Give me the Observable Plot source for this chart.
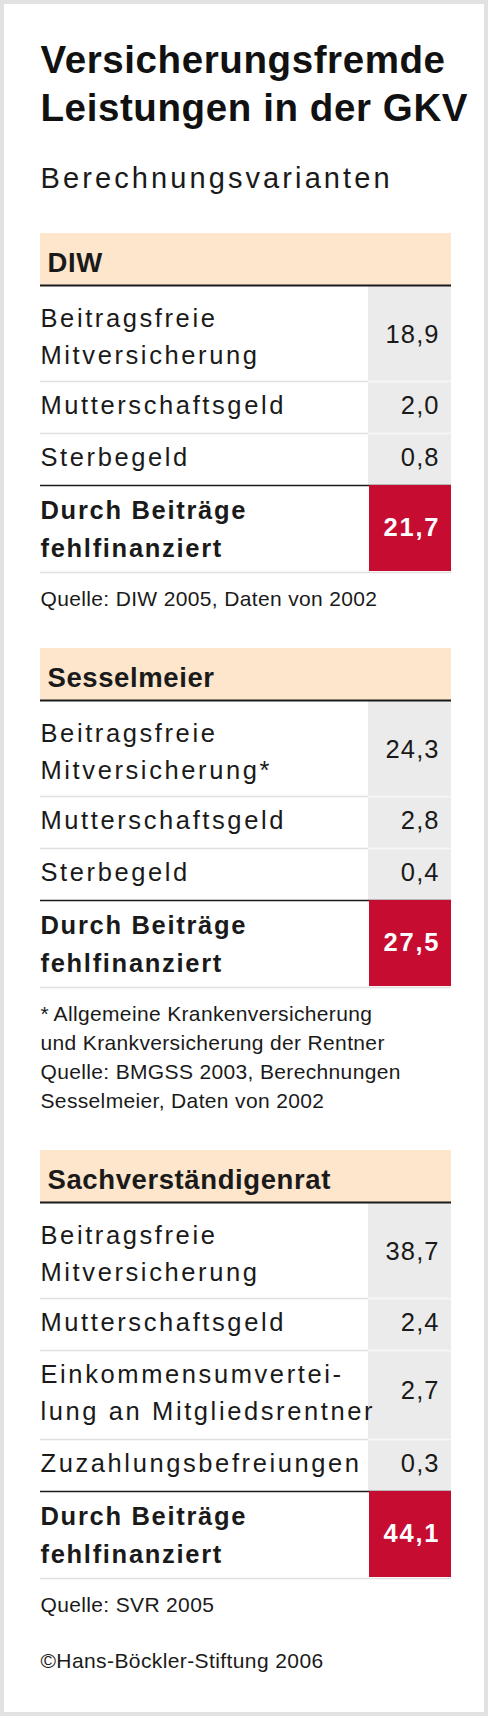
<!DOCTYPE html>
<html>
<head>
<meta charset="utf-8">
<script src="https://cdn.jsdelivr.net/npm/d3@7"></script>
<script src="https://cdn.jsdelivr.net/npm/@observablehq/plot@0.6"></script>
<style>
  html, body { margin: 0; padding: 0; background: #fff; }
  #chart svg { display: block; }
</style>
</head>
<body>
<div id="chart"></div>
<script>
// ---------- data ----------
const titleLines = ["Versicherungsfremde", "Leistungen in der GKV"];
const subtitle = "Berechnungsvarianten";
const sections = ["DIW", "Sesselmeier", "Sachverständigenrat"];

const diwLabels = ["Beitragsfreie\nMitversicherung", "Mutterschaftsgeld", "Sterbegeld"];
const diwValues = [18.9, 2.0, 0.8];
const diwNotes = ["Quelle: DIW 2005, Daten von 2002"];

const sesselLabels = ["Beitragsfreie\nMitversicherung*", "Mutterschaftsgeld", "Sterbegeld"];
const sesselValues = [24.3, 2.8, 0.4];
const sesselNotes = [
  "*\u2009Allgemeine Krankenversicherung",
  "und Krankversicherung der Rentner",
  "Quelle: BMGSS 2003, Berechnungen",
  "Sesselmeier, Daten von 2002"
];

const svrLabels = ["Beitragsfreie\nMitversicherung", "Mutterschaftsgeld", "Einkommensumvertei-\nlung an Mitgliedsrentner", "Zuzahlungsbefreiungen"];
const svrValues = [38.7, 2.4, 2.7, 0.3];
const svrNotes = ["Quelle: SVR 2005"];

const totalLabel = ["Durch Beiträge", "fehlfinanziert"];
const totals = [21.7, 27.5, 44.1];
const copyright = "©Hans-Böckler-Stiftung 2006";

// ---------- layout ----------
const W = 491, H = 1721;
const FONT = "'Liberation Sans', Arial, Helvetica, sans-serif";
const fmt = d3.formatLocale({decimal: ",", thousands: ".", grouping: [3], currency: ["", " €"]}).format(".1f");

const blocks = [
  {name: sections[0], labels: diwLabels, values: diwValues, total: totals[0], notes: diwNotes},
  {name: sections[1], labels: sesselLabels, values: sesselValues, total: totals[1], notes: sesselNotes},
  {name: sections[2], labels: svrLabels, values: svrValues, total: totals[2], notes: svrNotes}
];

const spacing = {title: 0.6, subtitle: 3.1, headers: 0.6, labels: 2.6, boldlabels: 1.7, values: 1.1, totals: 1.8, notes: 0.35, copy: 0.4};

const left = 40, right = 451, col = 368, valueX = 438;
const bands = [], headers = [], cells = [], reds = [], sepRules = [], darkRules = [], bottomRules = [];
const labelLines = [], boldLines = [], valueTexts = [], totalTexts = [], noteLines = [];
let y = 233, lastNote = 0;
for (const b of blocks) {
  bands.push({y1: y, y2: y + 52});
  headers.push({text: b.name, y: y + 38.5});
  y += 52;
  darkRules.push({y, w: 2});
  b.labels.forEach((lab, i) => {
    const lines = lab.split("\n");
    const first = i === 0;
    const h = 52 + (lines.length - 1) * 37 + (first ? 7 : 0);
    const b0 = y + 32 + (first ? 9 : 0);
    lines.forEach((t, k) => labelLines.push({text: t, y: b0 + k * 37}));
    const vb = lines.length === 1 ? b0 : b0 + (lines.length - 1) * 37 / 2 - 2;
    cells.push({y1: y, y2: y + h});
    valueTexts.push({text: fmt(b.values[i]), y: vb});
    y += h;
    if (i < b.labels.length - 1) sepRules.push({y});
  });
  darkRules.push({y, w: 1.5});
  reds.push({y1: y, y2: y + 86});
  totalLabel.forEach((t, k) => boldLines.push({text: t, y: y + 33 + k * 38}));
  totalTexts.push({text: fmt(b.total), y: y + 50});
  y += 86;
  bottomRules.push({y: y + 1});
  const nb = y + 34;
  b.notes.forEach((t, k) => noteLines.push({text: t, y: nb + k * 29}));
  lastNote = nb + (b.notes.length - 1) * 29;
  y = lastNote + 43;
}
const titleData = titleLines.map((t, k) => ({text: t, y: 72 + k * 48}));
const subData = [{text: subtitle, y: 187}];
const copyData = [{text: copyright, y: lastNote + 56}];

const txt = (data, o) => Plot.text(data, {
  x: o.x ?? left, y: "y", text: "text", textAnchor: o.anchor ?? "start", lineAnchor: "bottom",
  fontFamily: FONT, fontSize: o.size, fontWeight: o.weight ?? "normal", fill: o.fill ?? "#1a1a1a",
  ariaDescription: o.id
});

const chart = Plot.plot({
  width: W, height: H, margin: 0,
  x: {domain: [0, W], range: [0, W], axis: null},
  y: {domain: [0, H], range: [0, H], axis: null},
  style: {background: "#fff", fontFamily: FONT},
  marks: [
    Plot.rect([{}], {x1: 2, x2: 486, y1: 2, y2: 1714, fill: "none", stroke: "#e2e2e2", strokeWidth: 4}),
    Plot.rect(bands, {x1: left, x2: right, y1: "y1", y2: "y2", fill: "#fde6cc"}),
    Plot.rect(cells, {x1: col, x2: right, y1: "y1", y2: "y2", fill: "#ebebeb"}),
    Plot.ruleY(sepRules, {y: "y", x1: left, x2: col, stroke: "#e0e0e0", strokeWidth: 1.5}),
    Plot.ruleY(sepRules, {y: "y", x1: col, x2: right, stroke: "#f6f6f6", strokeWidth: 2}),
    Plot.ruleY(bottomRules, {y: "y", x1: left, x2: right, stroke: "#e0e0e0", strokeWidth: 1.5}),
    Plot.ruleY(darkRules, {y: "y", x1: left, x2: right, stroke: "#1a1a1a", strokeWidth: "w"}),
    Plot.rect(reds, {x1: col + 1, x2: right, y1: "y1", y2: "y2", fill: "#c70c31"}),
    txt(titleData, {size: 38.5, weight: "bold", id: "title", fill: "#111"}),
    txt(subData, {size: 29, id: "subtitle"}),
    txt(headers, {x: 47, size: 27.5, weight: "bold", id: "headers"}),
    txt(labelLines, {size: 25.5, id: "labels"}),
    txt(boldLines, {size: 25.5, weight: "bold", id: "boldlabels"}),
    txt(valueTexts, {x: valueX + spacing.values, anchor: "end", size: 25.5, id: "values"}),
    txt(totalTexts, {x: valueX + spacing.totals, anchor: "end", size: 25.5, weight: "bold", fill: "#fff", id: "totals"}),
    txt(noteLines, {size: 21, id: "notes"}),
    txt(copyData, {size: 21, id: "copy"})
  ]
});

for (const [id, s] of Object.entries(spacing)) {
  d3.select(chart).selectAll(`g[aria-description="${id}"] text`).style("letter-spacing", s + "px");
}
document.getElementById("chart").appendChild(chart);
</script>
</body>
</html>
